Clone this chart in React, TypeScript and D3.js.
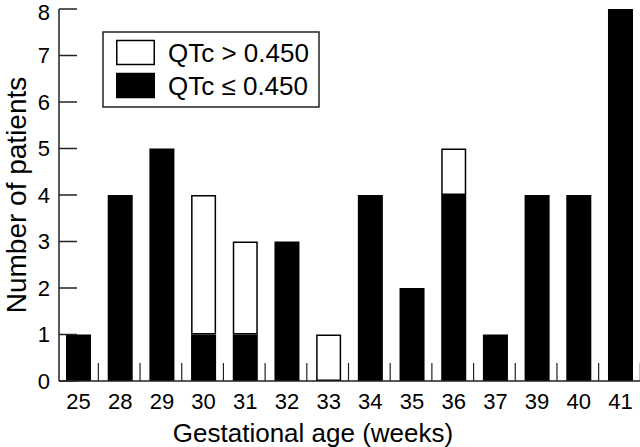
import React from "react";
import * as d3 from "d3";

const categories = ["25", "28", "29", "30", "31", "32", "33", "34", "35", "36", "37", "39", "40", "41"];
const lowQTc = [1, 4, 5, 1, 1, 3, 0, 4, 2, 4, 1, 4, 4, 8]; // QTc ≤ 0.450
const highQTc = [0, 0, 0, 3, 2, 0, 1, 0, 0, 1, 0, 0, 0, 0]; // QTc > 0.450
const yTicks = [0, 1, 2, 3, 4, 5, 6, 7, 8];
const legendLabels = ["QTc > 0.450", "QTc \u2264 0.450"];

const W = 640;
const H = 447;
const x0 = 59;
const x1 = 640;
const yBase = 381;
const yTop = 9;
const FONT = "'Liberation Sans', Arial, Helvetica, sans-serif";
const AXIS = "#222";
const TICK_FS = 22;

export default function App() {
  const x = d3
    .scaleBand<string>()
    .domain(categories)
    .range([x0, x1])
    .paddingInner(0.4)
    .paddingOuter(0.168);
  const y = d3.scaleLinear().domain([0, 8]).range([yBase, yTop]);
  const bw = x.bandwidth();
  const step = x.step();

  const rows = categories.map((c, i) => ({
    c,
    low: lowQTc[i],
    high: highQTc[i],
  }));
  const stack = d3.stack<any>().keys(["low", "high"])(rows as any);

  return (
    <svg
      width={W}
      height={H}
      style={{ position: "absolute", left: 0, top: 0, background: "#fff" }}
      fontFamily={FONT}
    >
      <rect x={0} y={0} width={W} height={H} fill="#fff" />
      {/* bars */}
      {stack.map((layer, li) =>
        layer.map((d: any, i: number) => {
          const v = d[1] - d[0];
          if (v <= 0) return null;
          return (
            <rect
              key={`${li}-${i}`}
              x={(x(categories[i]) as number) + 0.75}
              y={y(d[1]) + 0.75}
              width={bw - 1.5}
              height={y(d[0]) - y(d[1]) - 1.5}
              fill={li === 0 ? "#000" : "#fff"}
              stroke="#000"
              strokeWidth={1.5}
            />
          );
        })
      )}
      {/* axes */}
      <line x1={x0} x2={x0} y1={yTop} y2={yBase} stroke={AXIS} strokeWidth={1.5} />
      <line x1={x0} x2={x1} y1={yBase} y2={yBase} stroke={AXIS} strokeWidth={1.5} />
      {yTicks.map((t) => (
        <g key={t}>
          <line x1={x0} x2={x0 + 18} y1={y(t)} y2={y(t)} stroke={AXIS} strokeWidth={1.5} />
          <text
            x={50}
            y={Math.max(y(t) + 0.36 * TICK_FS, 0.91 * TICK_FS)}
            textAnchor="end"
            fontSize={TICK_FS}
            fill="#000"
          >
            {t}
          </text>
        </g>
      ))}
      {categories.map((c) => {
        const cx = (x(c) as number) + bw / 2;
        return (
          <g key={c}>
            <line
              x1={cx + step / 2 - 1}
              x2={cx + step / 2 - 1}
              y1={yBase - 18}
              y2={yBase}
              stroke={AXIS}
              strokeWidth={1.2}
            />
            <text x={cx} y={409} textAnchor="middle" fontSize={TICK_FS} fill="#000">
              {c}
            </text>
          </g>
        );
      })}
      <text x={313} y={442} textAnchor="middle" fontSize={26} fill="#000">
        Gestational age (weeks)
      </text>
      <text
        transform={`translate(26, ${(yTop + yBase) / 2}) rotate(-90)`}
        textAnchor="middle"
        fontSize={28}
        fill="#000"
      >
        Number of patients
      </text>
      {/* legend */}
      <rect x={103} y={32} width={216} height={75} fill="#fff" stroke={AXIS} strokeWidth={1.5} />
      {legendLabels.map((lab, i) => {
        const cy = 52.5 + i * 33;
        return (
          <g key={lab}>
            <rect
              x={116.75}
              y={cy - 12}
              width={37.5}
              height={24}
              fill={i === 0 ? "#fff" : "#000"}
              stroke="#000"
              strokeWidth={1.5}
            />
            <text x={168} y={cy} dy="0.36em" fontSize={26} fill="#000">
              {lab}
            </text>
          </g>
        );
      })}
    </svg>
  );
}
